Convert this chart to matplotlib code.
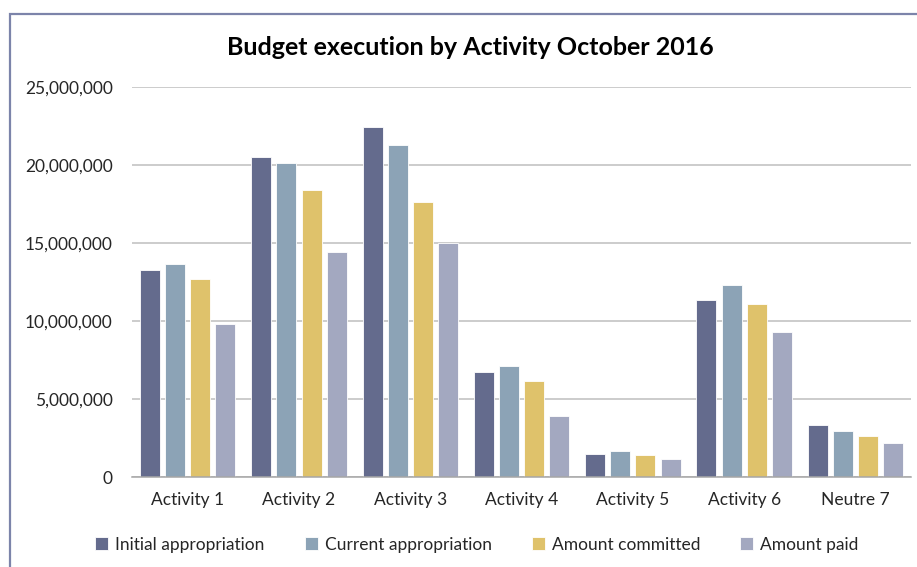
import matplotlib.pyplot as plt
import numpy as np
from matplotlib.patches import Rectangle
from matplotlib.ticker import FuncFormatter

categories = ['Activity 1', 'Activity 2', 'Activity 3', 'Activity 4',
              'Activity 5', 'Activity 6', 'Neutre 7']
series = ['Initial appropriation', 'Current appropriation',
          'Amount committed', 'Amount paid']
initial = [13270000, 20530000, 22440000, 6710000, 1470000, 11330000, 3310000]
current = [13630000, 20100000, 21280000, 7140000, 1670000, 12310000, 2950000]
committed = [12670000, 18400000, 17630000, 6150000, 1410000, 11070000, 2630000]
paid = [9830000, 14400000, 14980000, 3930000, 1170000, 9290000, 2200000]
colors = ['#646b8d', '#8ca3b6', '#dfc26b', '#a3a8c0']

plt.rcParams['font.family'] = ['Lato', 'DejaVu Sans']

fig = plt.figure(figsize=(9.17, 5.67), dpi=100)
ax = fig.add_axes([0.144, 0.1587, 0.8495, 0.6879])

x = np.arange(len(categories))
w = 0.18
step = 0.226
for i, (name, vals) in enumerate(zip(series, [initial, current, committed, paid])):
	ax.bar(x + (i - 1.5) * step, vals, w, color=colors[i], label=name,
	       edgecolor='white', linewidth=0.6, zorder=3)

ax.set_xlim(-0.5, len(categories) - 0.5)
ax.set_ylim(0, 25000000)
ax.set_yticks(np.arange(0, 25000001, 5000000))
ax.yaxis.set_major_formatter(FuncFormatter(lambda v, p: f'{int(v):,}'))
ax.set_xticks(x)
ax.set_xticklabels(categories)
ax.grid(axis='y', color='#bfbfbf', linewidth=1.1, zorder=0)
for s in ['top', 'right', 'left']:
	ax.spines[s].set_visible(False)
ax.spines['bottom'].set_color('#a6a6a6')
ax.spines['bottom'].set_linewidth(1.1)
ax.spines['bottom'].set_zorder(4)
ax.tick_params(axis='both', length=0, labelsize=12.5, labelcolor='#262626')
ax.tick_params(axis='x', pad=11)
ax.tick_params(axis='y', pad=14)

fig.text(0.5125, 0.917, 'Budget execution by Activity October 2016',
         ha='center', va='center', fontsize=18, fontweight='bold', color='black')

leg = fig.legend(loc='center', bbox_to_anchor=(0.52, 0.039), ncol=4, frameon=False,
                 fontsize=12.5, handlelength=0.75, handleheight=0.75,
                 handletextpad=0.4, columnspacing=2.3)
for t in leg.get_texts():
	t.set_color('#262626')

fig.patches.append(Rectangle((10 / 917, -0.1), 1.2, 1 - 14 / 567 + 0.1,
                             transform=fig.transFigure, fill=False,
                             edgecolor='#7c84aa', linewidth=1.6))

fig.savefig('out.png', dpi=100)
